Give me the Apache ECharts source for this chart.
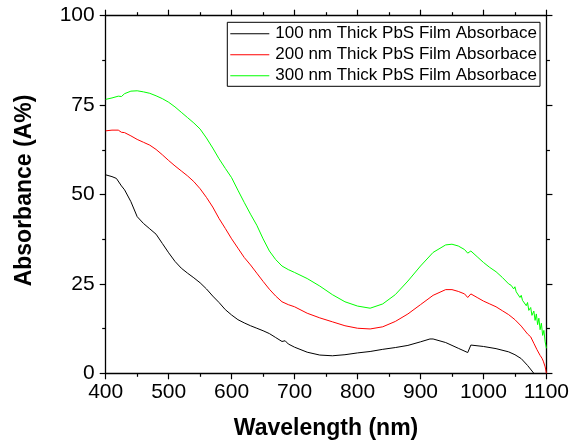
<!DOCTYPE html>
<html>
<head>
<meta charset="utf-8">
<script src="https://cdn.jsdelivr.net/npm/echarts@6/dist/echarts.min.js"></script>
<style>html,body{margin:0;padding:0;background:#fff}#c{width:572px;height:446px}</style>
</head>
<body>
<div id="c"></div>
<script>
const seriesNames = ['100 nm Thick PbS Film Absorbace', '200 nm Thick PbS Film Absorbace', '300 nm Thick PbS Film Absorbace'];
const xTicks = [400, 500, 600, 700, 800, 900, 1000, 1100];
const yTicks = [0, 25, 50, 75, 100];

const wl100 = [400,410,417,420,425,430,440,450,460,470,480,490,500,510,520,530,540,550,560,570,580,590,600,610,620,630,640,650,660,670,680,685,690,700,720,740,760,780,800,820,840,860,880,900,915,920,940,960,975,978,980,1000,1020,1040,1050,1060,1070,1080];
const abs100 = [55.5,55.0,54.5,54.0,52.4,51.3,48.0,43.8,41.9,40.4,38.9,36.3,33.7,31.3,29.4,28.0,26.7,25.3,23.6,21.6,19.8,17.8,16.3,15.0,14.1,13.3,12.6,11.9,11.1,10.0,8.9,9.1,8.2,7.3,5.9,5.1,4.9,5.2,5.7,6.1,6.7,7.2,7.8,8.8,9.6,9.6,8.6,7.0,5.8,5.6,7.9,7.5,6.9,6.0,5.2,4.1,2.2,0];

const wl200 = [400,410,420,425,430,440,450,460,470,480,490,500,510,520,530,540,550,560,570,580,590,600,610,620,630,640,650,660,670,680,690,700,720,740,760,780,800,820,840,860,880,900,920,940,950,960,970,975,978,980,990,1000,1010,1020,1030,1040,1050,1060,1070,1075,1078,1080,1083,1085,1088,1090,1093,1095,1098,1100];
const abs200 = [67.8,68.0,68.0,67.4,67.3,66.4,65.4,64.6,63.8,62.6,61.1,59.5,58.0,56.6,55.2,53.6,51.6,49.2,46.5,43.3,40.5,37.6,35.0,32.4,30.3,28.0,25.7,23.5,21.6,20.0,19.2,18.6,16.8,15.5,14.4,13.3,12.6,12.4,13.0,14.5,16.6,19.2,21.8,23.4,23.4,22.9,22.2,21.2,20.7,22.2,21.2,20.2,19.4,18.6,17.5,16.4,15.0,13.2,11.0,10.2,9.8,8.4,8.0,6.6,6.2,5.0,4.2,3.4,1.8,0];

const wl300 = [400,410,420,425,430,440,450,460,470,480,490,500,510,520,530,540,550,560,570,580,590,600,610,620,630,640,650,660,670,680,690,700,720,740,760,780,800,820,840,860,880,900,920,940,950,960,970,975,978,980,990,1000,1010,1020,1030,1040,1044,1048,1050,1052,1055,1058,1060,1062,1065,1068,1070,1072,1075,1077,1080,1082,1084,1086,1088,1090,1092,1094,1096,1098,1100];
const abs300 = [76.6,77.0,77.5,77.4,78.2,78.9,79.0,78.7,78.3,77.6,76.8,75.8,74.5,73.0,71.5,70.0,68.3,65.8,63.0,60.0,57.3,54.7,51.2,47.8,44.5,41.4,37.6,34.2,31.8,30.0,29.0,28.2,26.5,24.4,22.0,20.0,18.8,18.2,19.4,22.0,25.8,30.0,33.8,35.9,36.1,35.6,34.6,33.6,33.9,34.2,32.6,31.0,29.6,28.4,26.8,25.0,24.6,23.6,24.2,22.8,22.5,21.2,21.8,20.4,20.6,18.9,19.8,17.6,18.4,16.2,17.4,14.8,16.6,13.6,15.4,12.2,14.0,10.6,12.0,8.8,7.0];

const colors = ['#000000', '#ff0000', '#00ff00'];
const FONT = 'Liberation Sans, Arial, sans-serif';

function pairs(xs, ys) { return xs.map((x, i) => [x, ys[i]]); }

const axisLineStyle = { color: '#000', width: 1.3 };
function xAx(pos, showLabel, name) {
  return {
    type: 'value', position: pos, min: xTicks[0], max: xTicks[xTicks.length - 1], interval: 100,
    name: name || '', nameLocation: 'middle', nameGap: 44,
    nameTextStyle: { fontFamily: FONT, fontSize: 23, fontWeight: 'bold', color: '#000' },
    axisLine: { show: true, onZero: false, lineStyle: axisLineStyle },
    axisTick: { show: true, inside: false, length: 6, lineStyle: { color: '#000', width: 1.2 } },
    minorTick: { show: true, splitNumber: 2, length: 3.5, lineStyle: { color: '#000', width: 1.2 } },
    axisLabel: { show: showLabel, margin: 8, fontFamily: FONT, fontSize: 21, color: '#000', formatter: v => String(v) },
    splitLine: { show: false }
  };
}
function yAx(pos, showLabel, name) {
  return {
    type: 'value', position: pos, min: yTicks[0], max: yTicks[yTicks.length - 1], interval: 25,
    name: name || '', nameLocation: 'middle', nameGap: 70,
    nameTextStyle: { fontFamily: FONT, fontSize: 23, fontWeight: 'bold', color: '#000', padding: [0, 0, 0, 8] },
    axisLine: { show: true, onZero: false, lineStyle: axisLineStyle },
    axisTick: { show: true, inside: false, length: 6, lineStyle: { color: '#000', width: 1.2 } },
    minorTick: { show: true, splitNumber: 2, length: 3.5, lineStyle: { color: '#000', width: 1.2 } },
    axisLabel: { show: showLabel, margin: 11, fontFamily: FONT, fontSize: 21, color: '#000', formatter: v => String(v) },
    splitLine: { show: false }
  };
}

const chart = echarts.init(document.getElementById('c'), null, { renderer: 'canvas' });
chart.setOption({
  animation: false,
  backgroundColor: '#fff',
  grid: { left: 105.7, right: 23.7, top: 15.7, bottom: 72.7, containLabel: false },
  xAxis: [xAx('bottom', true, 'Wavelength (nm)'), xAx('top', false)],
  yAxis: [yAx('left', true, 'Absorbance (A%)'), yAx('right', false)],
  legend: {
    orient: 'vertical', left: 227.3, top: 22.3,
    borderColor: '#000', borderWidth: 1, borderRadius: 0,
    padding: [3, 3, 2, 3],
    itemGap: 4, itemWidth: 39, itemHeight: 1, icon: 'rect',
    textStyle: { fontFamily: FONT, fontSize: 17, color: '#000', padding: [0, 0, 0, 1] },
    data: seriesNames
  },
  series: [
    { name: seriesNames[0], type: 'line', data: pairs(wl100, abs100) },
    { name: seriesNames[1], type: 'line', data: pairs(wl200, abs200) },
    { name: seriesNames[2], type: 'line', data: pairs(wl300, abs300) }
  ].map((s, i) => Object.assign(s, {
    xAxisIndex: 0, yAxisIndex: 0, showSymbol: false, symbol: 'none', smooth: false,
    color: colors[i], lineStyle: { color: colors[i], width: 1 }, z: 3 - i
  }))
});
</script>
</body>
</html>
